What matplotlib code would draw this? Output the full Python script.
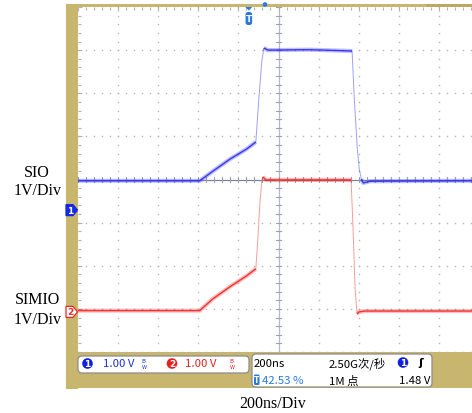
import matplotlib

matplotlib.use("Agg")
import matplotlib.pyplot as plt
import numpy as np
from matplotlib.patches import Circle, FancyBboxPatch, Polygon, Rectangle
from matplotlib.transforms import blended_transform_factory

# scope settings
ns_per_div = 200
volts_per_div = 1.0
ch1_offset = -0.71  # divisions from screen centre
ch2_offset = -3.07
trig_time = -148  # ns

# traces (time in ns, level in volts)
ch1_t = [-1000, -393, -328, -243, -158, -113, -98, -83, -73, -53, 150, 367,
         378, 393, 403, 413, 423, 458, 965]
ch1_v = [0.68, 0.68, 0.90, 1.18, 1.42, 1.58, 2.58, 3.46, 3.76, 3.71, 3.72, 3.69,
         2.58, 1.42, 0.95, 0.72, 0.63, 0.67, 0.68]
ch2_t = [-1000, -393, -328, -243, -158, -113, -103, -93, -83, -78, -63, 362,
         372, 382, 392, 402, 432, 965]
ch2_v = [0.03, 0.03, 0.30, 0.58, 0.84, 1.00, 1.69, 2.51, 3.04, 3.13, 3.06, 3.06,
         1.93, 0.53, -0.05, 0.0, 0.02, 0.02]

# status bar text
ch1_scale = "1.00 V"
ch2_scale = "1.00 V"
timebase = "200ns"
sample_rate = "2.50G次/秒"
trig_pos = "42.53 %"
rec_len = "1M 点"
trig_level = "1.48 V"

KHAKI = "#c8b56e"
BLUE = "#2a2af0"
RED = "#f02424"
TBLUE = "#2a78e0"
STATUS_FONT = ["Liberation Sans Narrow", "Noto Sans CJK SC", "DejaVu Sans"]
SERIF = ["Liberation Serif", "DejaVu Serif"]

fig = plt.figure(figsize=(4.72, 4.14), dpi=100)

# background layer in pixel units
bg = fig.add_axes([0, 0, 1, 1])
bg.set_xlim(0, 472)
bg.set_ylim(414, 0)
bg.axis("off")

bg.add_patch(Rectangle((66, 5), 406, 3, fc=KHAKI, ec="none"))
bg.add_patch(Rectangle((426, 5), 46, 3.5, fc="#bca860", ec="none"))
bg.add_patch(Rectangle((66, 5), 12, 385, fc=KHAKI, ec="none"))
bg.add_patch(Rectangle((66, 353), 406, 36, fc=KHAKI, ec="none"))

# screen
ax = fig.add_axes([78 / 472, 61 / 414, 394 / 472, 345 / 414], zorder=2)
ax.set_xlim(-5 * ns_per_div, -5 * ns_per_div + 394 / 40.1 * ns_per_div)
ax.set_ylim(-4, 4)
ax.set_facecolor("white")
for s in ax.spines.values():
    s.set_visible(False)
ax.set_xticks(np.arange(-1000, 966, 200))
ax.set_xticks(np.arange(-1000, 966, 40), minor=True)
ax.set_yticks(np.arange(-4, 4.01, 1))
ax.set_yticks(np.arange(-4, 4.01, 0.2), minor=True)
ax.tick_params(which="both", direction="in", colors="#b0b0b0", width=0.8,
               labelbottom=False, labelleft=False, top=True, bottom=False,
               left=True, right=False)
ax.tick_params(which="major", length=3)
ax.tick_params(which="minor", length=2)

# dotted graticule
gx, gy = [], []
for t in np.arange(-800, 966, 200):
    if t == 0:
        continue
    ys = np.arange(-4, 4.01, 0.2)
    gx += [t] * len(ys)
    gy += list(ys)
for v in np.arange(-4, 4):
    if v == 0:
        continue
    xs = np.arange(-1000, 966, 40)
    gx += list(xs)
    gy += [v] * len(xs)
ax.plot(gx, gy, ls="none", marker="s", ms=1.0, mew=0, color="#b4b4b4", zorder=1)

# centre axes with minor ticks
ax.axhline(0, color="#7d8698", lw=0.9, zorder=1)
ax.axvline(0, color="#b4b8c8", lw=0.9, zorder=1)
for t in np.arange(-1000, 966, 40):
    ax.plot([t, t], [-0.05, 0.05], color="#9aa0b0", lw=0.8, zorder=1)
for v in np.arange(-4, 4.01, 0.2):
    ax.plot([-12, 12], [v, v], color="#9aa0b0", lw=0.8, zorder=1)


def draw_trace(t, v, offset, color):
    t = np.asarray(t, float)
    y = np.asarray(v, float) / volts_per_div + offset
    # steep edges are drawn faint and thin like on the scope screen
    dx_px = np.diff(t) / ns_per_div * 40.1
    dy_px = np.diff(y) * 43.1
    steep = np.abs(dy_px) > 2.5 * np.abs(dx_px)
    i = 0
    while i < len(steep):
        j = i
        while j + 1 < len(steep) and steep[j + 1] == steep[i]:
            j += 1
        seg_t = t[i:j + 2]
        seg_y = y[i:j + 2]
        if steep[i]:
            ax.plot(seg_t, seg_y, color=color, lw=0.7, alpha=0.45, zorder=3,
                    solid_capstyle="butt")
        else:
            ax.plot(seg_t, seg_y, color=color, lw=3.0, alpha=0.3, zorder=3,
                    solid_capstyle="butt")
            ax.plot(seg_t, seg_y, color=color, lw=1.0, alpha=0.9, zorder=4,
                    solid_capstyle="butt")
        i = j + 1


draw_trace(ch2_t, ch2_v, ch2_offset, RED)
draw_trace(ch1_t, ch1_v, ch1_offset, BLUE)

# channel ground markers on the left frame
mk = blended_transform_factory(bg.transData, ax.transData)
d = 5.5 / 43.1
for off, fc, ec, tc, lab in [(ch1_offset, "#1428e6", "#1428e6", "white", "1"),
                             (ch2_offset, "white", RED, RED, "2")]:
    pts = [(66, off - d), (73, off - d), (77.5, off), (73, off + d), (66, off + d)]
    bg.add_patch(Polygon(pts, closed=True, fc=fc, ec=ec, lw=0.9, transform=mk,
                         zorder=5, clip_on=False))
    bg.text(70.5, off, lab, transform=mk, ha="center", va="center", color=tc,
            fontsize=6.5, fontweight="bold", zorder=6)

# trigger position marker at the top (x from the trigger time on the screen),
# drawn at figure level so the screen does not hide it
tx = 78 + (trig_time - ax.get_xlim()[0]) / ns_per_div * 40.1
px = bg.transData
fig.add_artist(Polygon([(tx - 3.5, 8), (tx + 3.5, 8), (tx, 11.5)], closed=True,
                       fc=TBLUE, ec="none", zorder=6, transform=px))
fig.add_artist(FancyBboxPatch((tx - 3.3, 13), 6.6, 13,
                              boxstyle="round,pad=0,rounding_size=2.5", fc=TBLUE,
                              ec="none", zorder=6, transform=px))
fig.text(tx, 19.8, "T", transform=px, ha="center", va="center", color="white",
         fontsize=6.5, fontweight="bold", zorder=7)
fig.add_artist(Circle((265, 5.5), 2.3, fc=TBLUE, ec="none", zorder=6, transform=px))

# left labels and bottom caption
bg.text(36.5, 173, "SIO", ha="center", va="center", fontsize=11.5, family=SERIF)
bg.text(37.5, 191, "1V/Div", ha="center", va="center", fontsize=11.5, family=SERIF)
bg.text(37, 300, "SIMIO", ha="center", va="center", fontsize=11.5, family=SERIF)
bg.text(37.5, 320, "1V/Div", ha="center", va="center", fontsize=11.5, family=SERIF)
bg.text(273, 404, "200ns/Div", ha="center", va="center", fontsize=11.5, family=SERIF)

# status boxes
bg.add_patch(FancyBboxPatch((78, 357), 171, 17, boxstyle="round,pad=0,rounding_size=4",
                            fc="white", ec="#8c8c8c", lw=0.9, zorder=3))
bg.add_patch(FancyBboxPatch((252, 355), 180, 33, boxstyle="round,pad=0,rounding_size=4",
                            fc="white", ec="#8c8c8c", lw=0.9, zorder=3))


def badge(x, y, lab, color):
    bg.add_patch(Circle((x, y), 5.3, fc=color, ec="none", zorder=4))
    bg.text(x, y + 0.3, lab, ha="center", va="center", color="white", fontsize=6.5,
            fontweight="bold", zorder=5)


def bw(x, color):
    bg.text(x, 362, "B", ha="center", va="center", color=color, fontsize=4.2, zorder=5)
    bg.text(x + 1.8, 367.5, "W", ha="center", va="center", color=color, fontsize=3.6,
            zorder=5)


row1, row2 = 364, 381
badge(87.5, 364.5, "1", "#1020e0")
bg.text(103, row1, ch1_scale, ha="left", va="center", color="#2030d0", fontsize=8.2,
        family=STATUS_FONT, zorder=5)
bw(143, "#2030d0")
badge(172, 364.5, "2", "#e82020")
bg.text(185, row1, ch2_scale, ha="left", va="center", color="#e02020", fontsize=8.2,
        family=STATUS_FONT, zorder=5)
bw(231, "#e02020")

bg.text(254, row1, timebase, ha="left", va="center", color="black", fontsize=8.2,
        family=STATUS_FONT, zorder=5)
bg.text(329, row1, sample_rate, ha="left", va="center", color="black", fontsize=8.2,
        family=STATUS_FONT, zorder=5)
badge(403, 363.5, "1", "#1020e0")
bg.text(421, row1 - 0.5, "ʃ", ha="center", va="center", color="black", fontsize=8,
        fontweight="bold", zorder=5)

bg.add_patch(FancyBboxPatch((254, 375.5), 5.5, 10.5, boxstyle="round,pad=0,rounding_size=1.2",
                            fc=TBLUE, ec="none", zorder=4))
bg.text(256.8, 381, "T", ha="center", va="center", color="white", fontsize=5.5,
        fontweight="bold", zorder=5)
bg.text(261.5, row2, trig_pos, ha="left", va="center", color=TBLUE, fontsize=8.2,
        family=STATUS_FONT, zorder=5)
bg.text(329, row2, rec_len, ha="left", va="center", color="black", fontsize=8.2,
        family=STATUS_FONT, zorder=5)
bg.text(430, row2, trig_level, ha="right", va="center", color="black", fontsize=8.2,
        family=STATUS_FONT, zorder=5)

fig.savefig("out.png", dpi=100)
